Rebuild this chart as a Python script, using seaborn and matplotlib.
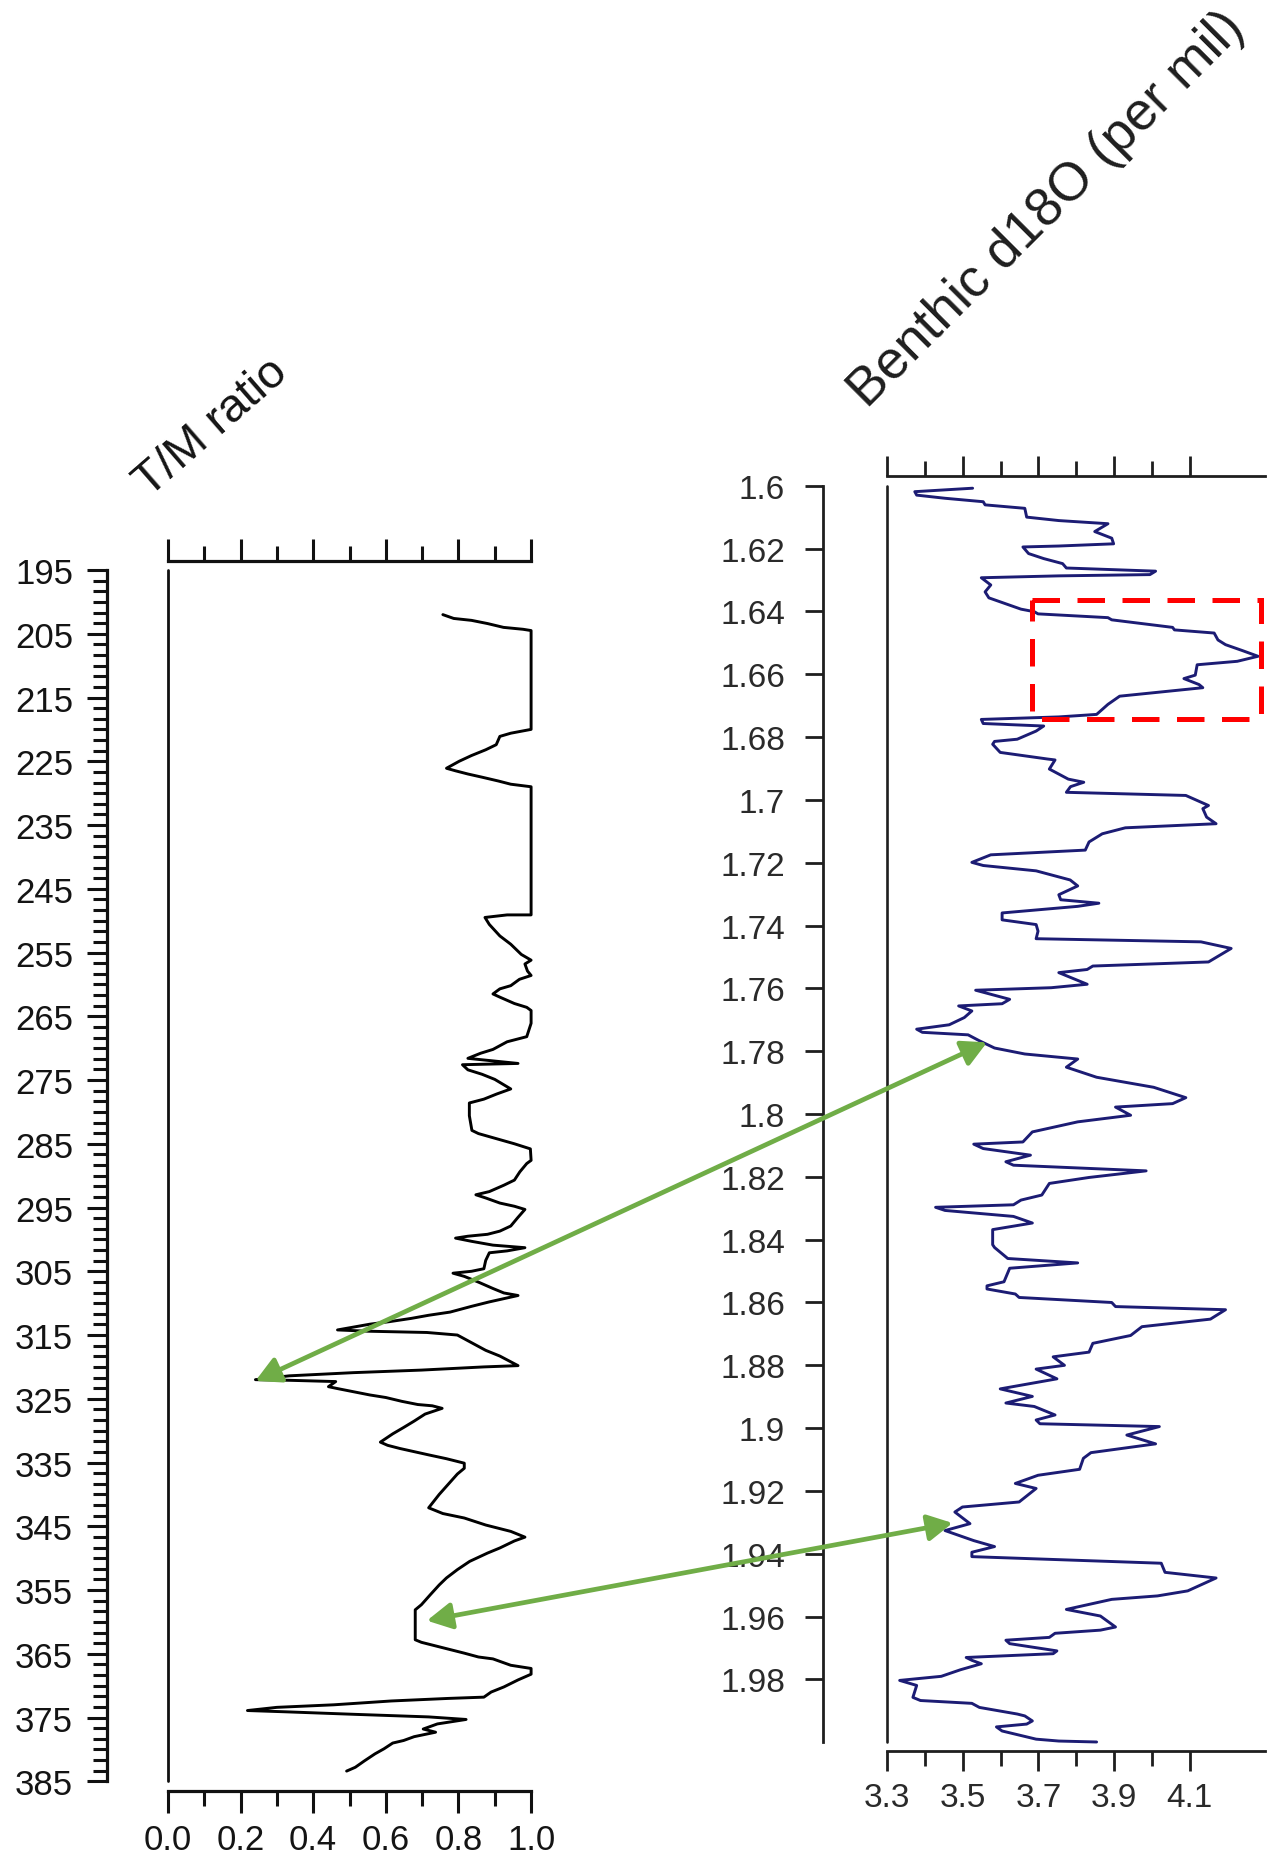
import numpy as np
import pandas as pd
import seaborn as sns
import matplotlib
matplotlib.use("Agg")
import matplotlib.pyplot as plt
from matplotlib.ticker import FixedLocator, FuncFormatter
from matplotlib.patches import Rectangle, ConnectionPatch, ArrowStyle

# ---------------- data ----------------
tm_ratio = [0.757, 0.787, 0.836, 0.88, 0.924, 0.978, 1.0, 1.0, 0.944, 0.914, 0.904, 0.875, 0.836, 0.802, 0.767,
            0.792, 0.826, 0.865, 0.91, 0.944, 1.0, 1.0, 0.934, 0.873, 0.885, 0.914, 0.944, 0.973, 1.0, 0.983,
            0.99, 1.0, 0.968, 0.944, 0.914, 0.895, 0.914, 0.954, 0.988, 1.0, 1.0, 0.988, 0.934, 0.895, 0.861,
            0.826, 0.964, 0.811, 0.826, 0.865, 0.9, 0.944, 0.905, 0.87, 0.83, 0.83, 0.837, 0.855, 0.905, 0.954,
            0.998, 1.0, 0.988, 0.969, 0.954, 0.925, 0.885, 0.848, 0.875, 0.914, 0.954, 0.983, 0.963, 0.944,
            0.914, 0.88, 0.826, 0.792, 0.836, 0.895, 0.983, 0.934, 0.885, 0.875, 0.87, 0.836, 0.785, 0.816,
            0.855, 0.895, 0.925, 0.964, 0.925, 0.885, 0.836, 0.777, 0.718, 0.669, 0.61, 0.556, 0.506, 0.467,
            0.55, 0.713, 0.797, 0.836, 0.875, 0.914, 0.964, 0.87, 0.698, 0.511, 0.334, 0.241, 0.334, 0.462,
            0.442, 0.467, 0.511, 0.556, 0.6, 0.644, 0.688, 0.728, 0.755, 0.708, 0.678, 0.649, 0.619, 0.585,
            0.605, 0.639, 0.678, 0.718, 0.767, 0.816, 0.816, 0.797, 0.772, 0.747, 0.718, 0.757, 0.816, 0.875,
            0.944, 0.983, 0.954, 0.914, 0.88, 0.831, 0.797, 0.767, 0.747, 0.723, 0.698, 0.681, 0.681, 0.698,
            0.747, 0.782, 0.816, 0.855, 0.895, 0.944, 1.0, 1.0, 0.964, 0.925, 0.89, 0.87, 0.772, 0.615, 0.457,
            0.3, 0.219, 0.324, 0.516, 0.718, 0.821, 0.742, 0.703, 0.737, 0.678, 0.649, 0.619, 0.595, 0.57,
            0.541, 0.516, 0.492]
tm_depth = [202.0, 202.6, 202.9, 203.4, 204.0, 204.3, 204.5, 220.0, 220.6, 221.1, 222.4, 223.2, 224.1, 225.0, 226.1,
            226.5, 227.0, 227.5, 228.1, 228.6, 229.0, 249.1, 249.1, 249.5, 250.6, 252.4, 253.7, 255.3, 256.2, 256.8,
            257.9, 258.6, 259.2, 260.2, 260.7, 261.5, 262.0, 263.0, 263.6, 264.1, 266.1, 268.2, 269.0, 270.2, 270.8,
            271.6, 272.4, 272.6, 273.4, 274.1, 274.9, 276.4, 277.2, 278.0, 278.6, 280.6, 282.9, 283.4, 284.2, 285.0,
            285.8, 287.6, 288.1, 289.4, 290.7, 291.5, 292.5, 293.0, 293.5, 294.3, 294.8, 295.3, 296.6, 297.9,
            298.7, 299.2, 299.5, 299.8, 300.3, 300.9, 301.3, 301.8, 302.1, 303.3, 304.6, 305.0, 305.3, 305.8,
            306.7, 307.7, 308.4, 308.8, 309.3, 309.8, 310.5, 311.4, 311.9, 312.4, 312.9, 313.3, 313.8, 314.2,
            314.4, 314.6, 315.0, 316.2, 317.4, 318.3, 319.8, 320.0, 320.5, 320.9, 321.4, 322.0, 322.1, 322.3,
            323.1, 323.4, 323.9, 324.4, 324.8, 325.4, 325.9, 326.1, 326.5, 327.4, 328.5, 329.5, 330.5, 331.8,
            332.3, 332.8, 333.3, 333.8, 334.4, 335.1, 335.9, 336.8, 338.4, 340.0, 342.1, 343.0, 343.7, 344.8,
            345.8, 346.7, 347.3, 348.4, 349.2, 350.5, 351.8, 353.1, 354.2, 355.7, 357.3, 358.1, 362.8, 363.2,
            363.9, 364.4, 364.9, 365.5, 365.8, 366.8, 367.3, 368.2, 369.1, 370.2, 371.0, 371.8, 372.0, 372.4, 373.0,
            373.4, 373.9, 374.1, 374.5, 374.9, 375.3, 376.0, 376.8, 377.3, 378.0, 378.6, 379.0, 379.9, 380.7,
            381.8, 382.8, 383.4]

d18o = [3.526, 3.373, 3.378, 3.453, 3.554, 3.559, 3.664, 3.669, 3.754, 3.884, 3.849, 3.894, 3.899, 3.754, 3.659,
        3.674, 3.714, 3.764, 3.774, 4.01, 3.995, 3.754, 3.549, 3.574, 3.559, 3.569, 3.609, 3.654, 3.689, 3.699,
        3.884, 3.894, 4.055, 4.06, 4.165, 4.175, 4.195, 4.24, 4.281, 4.226, 4.12, 4.115, 4.085, 4.125, 4.135,
        3.915, 3.884, 3.854, 3.754, 3.549, 3.554, 3.714, 3.694, 3.644, 3.584, 3.579, 3.599, 3.664, 3.724, 3.744,
        3.729, 3.754, 3.779, 3.82, 3.785, 3.774, 4.09, 4.15, 4.135, 4.145, 4.17, 3.93, 3.869, 3.834, 3.824,
        3.574, 3.524, 3.554, 3.694, 3.719, 3.784, 3.804, 3.754, 3.759, 3.86, 3.804, 3.604, 3.604, 3.694, 3.699,
        3.694, 4.13, 4.21, 4.15, 3.844, 3.829, 3.754, 3.829, 3.734, 3.534, 3.624, 3.604, 3.489, 3.524, 3.504,
        3.464, 3.378, 3.393, 3.514, 3.544, 3.584, 3.664, 3.804, 3.774, 3.854, 4.005, 4.09, 4.055, 3.904, 3.944,
        3.804, 3.684, 3.659, 3.529, 3.554, 3.679, 3.614, 3.634, 3.985, 3.834, 3.729, 3.709, 3.654, 3.634, 3.428,
        3.453, 3.634, 3.684, 3.579, 3.579, 3.584, 3.619, 3.804, 3.624, 3.609, 3.564, 3.564, 3.639, 3.649, 3.894,
        3.904, 4.195, 4.155, 3.974, 3.944, 3.844, 3.834, 3.739, 3.769, 3.694, 3.749, 3.599, 3.684, 3.614, 3.689,
        3.744, 3.694, 3.704, 4.02, 3.934, 4.01, 3.839, 3.819, 3.809, 3.699, 3.639, 3.694, 3.649, 3.499, 3.479,
        3.519, 3.453, 3.529, 3.584, 3.524, 3.524, 4.025, 4.035, 4.17, 4.095, 4.015, 3.894, 3.774, 3.864, 3.904,
        3.864, 3.744, 3.729, 3.614, 3.624, 3.749, 3.739, 3.544, 3.509, 3.524, 3.549, 3.494, 3.443, 3.333, 3.378,
        3.368, 3.388, 3.524, 3.544, 3.644, 3.664, 3.684, 3.669, 3.589, 3.604, 3.694, 3.754, 3.854]
age = [1.6008, 1.6019, 1.603, 1.604, 1.6051, 1.6061, 1.6072, 1.61, 1.6111, 1.6121, 1.6146, 1.6167, 1.6185, 1.6192, 1.6195,
       1.6216, 1.6232, 1.6248, 1.6262, 1.6272, 1.6283, 1.6287, 1.6293, 1.6316, 1.6338, 1.6357, 1.6374, 1.6393, 1.6401, 1.6408,
       1.642, 1.6427, 1.6451, 1.6459, 1.6469, 1.6491, 1.6506, 1.6525, 1.6543, 1.6559, 1.657, 1.6603, 1.6614, 1.6633, 1.6643,
       1.667, 1.6696, 1.6728, 1.6736, 1.6744, 1.6757, 1.6765, 1.6781, 1.6807, 1.6814, 1.6823, 1.6849, 1.686, 1.687, 1.6873,
       1.6902, 1.6918, 1.6934, 1.6944, 1.6958, 1.6976, 1.6986, 1.7018, 1.7028, 1.7055, 1.7076, 1.7089, 1.7108, 1.7134, 1.716,
       1.7175, 1.7199, 1.7209, 1.7226, 1.7234, 1.7255, 1.7274, 1.7302, 1.7318, 1.7329, 1.7339, 1.736, 1.7382, 1.7397, 1.7418,
       1.7442, 1.7452, 1.7473, 1.7516, 1.7529, 1.754, 1.755, 1.7587, 1.7598, 1.7606, 1.7635, 1.7649, 1.7656, 1.7672, 1.7693,
       1.7716, 1.773, 1.774, 1.7748, 1.7767, 1.779, 1.7809, 1.7825, 1.7851, 1.7883, 1.7915, 1.7948, 1.7967, 1.7978, 1.8004,
       1.8025, 1.8057, 1.8089, 1.8096, 1.811, 1.8131, 1.8152, 1.8163, 1.8181, 1.8202, 1.8221, 1.8258, 1.8274, 1.8289, 1.8297,
       1.8307, 1.8326, 1.8347, 1.8368, 1.8416, 1.8425, 1.846, 1.8474, 1.8491, 1.8534, 1.8547, 1.8557, 1.8573, 1.8584, 1.86,
       1.8613, 1.8623, 1.8653, 1.8677, 1.8705, 1.873, 1.8758, 1.8773, 1.88, 1.8812, 1.8843, 1.8875, 1.8899, 1.892, 1.8931,
       1.8958, 1.8974, 1.8986, 1.8995, 1.9022, 1.905, 1.9078, 1.9096, 1.9131, 1.915, 1.9176, 1.9192, 1.9235, 1.9251, 1.9267,
       1.9304, 1.9326, 1.9358, 1.9377, 1.9395, 1.9409, 1.943, 1.9459, 1.9477, 1.9518, 1.9534, 1.9545, 1.9577, 1.9598, 1.9633,
       1.9643, 1.9653, 1.9666, 1.9675, 1.9686, 1.9709, 1.9718, 1.9728, 1.973, 1.9739, 1.975, 1.9769, 1.979, 1.9803, 1.9819,
       1.9857, 1.9867, 1.9876, 1.9889, 1.991, 1.9916, 1.9932, 1.9942, 1.9951, 1.9964, 1.999, 1.9996, 1.9999]

left_yticks = list(range(195, 386, 10))
left_xticks = [0.0, 0.2, 0.4, 0.6, 0.8, 1.0]
left_xminor = [0.1, 0.3, 0.5, 0.7, 0.9]
right_yticks = [1.6, 1.62, 1.64, 1.66, 1.68, 1.7, 1.72, 1.74, 1.76, 1.78, 1.8, 1.82, 1.84, 1.86, 1.88,
                1.9, 1.92, 1.94, 1.96, 1.98]
right_xticks = [3.3, 3.5, 3.7, 3.9, 4.1]
right_xminor = [3.4, 3.6, 3.8, 4.0]

title_left = "T/M ratio"
title_right = "Benthic d18O (per mil)"

# annotation anchors (data coords): (tm value, depth) <-> (d18O, age)
arrow_pairs = [((0.241, 322.2), (3.564, 1.7772)),
               ((0.713, 359.8), (3.473, 1.9302))]
box_x = (3.684, 4.288)
box_y = (1.6364, 1.6744)

# ---------------- style ----------------
sns.set_theme(style="white")
plt.rcParams['font.family'] = ['Liberation Sans', 'DejaVu Sans']

W, H = 1274, 1858
fig = plt.figure(figsize=(W / 100, H / 100), dpi=100)
fig.patch.set_facecolor("white")

def fx(px):
    return px / W

def fy(py):
    return 1 - py / H

# left axes: x 167.9..531.1 px, y 571..1782.3 px
ax1 = fig.add_axes([fx(167.9), fy(1782.3), fx(531.1 - 167.9), (1782.3 - 571) / H])
# right axes: x 887.2..1265.2 px, y 486.7..1743.3 px
ax2 = fig.add_axes([fx(887.2), fy(1743.3), fx(1265.2 - 887.2), (1743.3 - 486.7) / H])

df_l = pd.DataFrame({"ratio": tm_ratio, "depth": tm_depth})
df_r = pd.DataFrame({"d18o": d18o, "age": age})

lc = "#111111"
sns.lineplot(data=df_l, x="ratio", y="depth", sort=False, estimator=None, orient="y",
             color="black", linewidth=2.1, ax=ax1, clip_on=False)
sns.lineplot(data=df_r, x="d18o", y="age", sort=False, estimator=None, orient="y",
             color="#1c1c74", linewidth=2.1, ax=ax2, clip_on=False)

# ---- left axes styling ----
ax1.set_xlim(0, 1)
ax1.set_ylim(385, 195)
ax1.set_xlabel("")
ax1.set_ylabel("")
ax1.spines["right"].set_visible(False)
for s in ["left", "top", "bottom"]:
    ax1.spines[s].set_color(lc)
    ax1.spines[s].set_linewidth(2.3)
ax1.spines["left"].set_position(("outward", 43.8))
ax1.spines["top"].set_position(("outward", 6.7))
ax1.spines["bottom"].set_position(("outward", 6.8))
ax1.axvline(0, color=lc, lw=2.0, clip_on=False)

ax1.yaxis.set_major_locator(FixedLocator(left_yticks))
ax1.yaxis.set_minor_locator(FixedLocator(list(np.arange(195, 385.01, 10 / 6))))
ax1.xaxis.set_major_locator(FixedLocator(left_xticks))
ax1.xaxis.set_minor_locator(FixedLocator(left_xminor))
ax1.xaxis.set_major_formatter(FuncFormatter(lambda v, p: f"{v:.1f}"))
ax1.yaxis.set_major_formatter(FuncFormatter(lambda v, p: f"{v:.0f}"))
ax1.tick_params(axis="y", which="major", direction="out", length=14.1, width=2.2, color=lc,
                labelsize=25, pad=10.5, labelcolor="#141414", left=True, right=False)
ax1.tick_params(axis="y", which="minor", direction="out", length=10.3, width=2.2, color=lc, left=True)
ax1.tick_params(axis="x", which="major", direction="out", length=15.5, width=2.2, color=lc,
                labelsize=25, pad=7.5, labelcolor="#141414", top=True, bottom=True,
                labeltop=False, labelbottom=True)
ax1.tick_params(axis="x", which="minor", direction="out", length=11, width=2.2, color=lc,
                top=True, bottom=True)

# ---- right axes styling ----
rc = "#1e1e1e"
ax2.set_xlim(3.3, 4.3)
ax2.set_ylim(2.0, 1.6)
ax2.set_xlabel("")
ax2.set_ylabel("")
ax2.spines["right"].set_visible(False)
for s in ["left", "top", "bottom"]:
    ax2.spines[s].set_color(rc)
    ax2.spines[s].set_linewidth(2.0)
ax2.spines["left"].set_position(("outward", 46.0))
ax2.spines["top"].set_position(("outward", 7.0))
ax2.spines["bottom"].set_position(("outward", 6.3))
ax2.axvline(3.3, color=rc, lw=1.9, clip_on=False)

ax2.yaxis.set_major_locator(FixedLocator(right_yticks))
ax2.yaxis.set_major_formatter(FuncFormatter(lambda v, p: f"{v:g}"))
ax2.xaxis.set_major_locator(FixedLocator(right_xticks))
ax2.xaxis.set_minor_locator(FixedLocator(right_xminor))
ax2.xaxis.set_major_formatter(FuncFormatter(lambda v, p: f"{v:.1f}"))
ax2.tick_params(axis="y", which="major", direction="out", length=13.1, width=2.0, color=rc,
                labelsize=24, pad=14.5, labelcolor="#2a2a2a", left=True, right=False)
ax2.tick_params(axis="x", which="major", direction="out", length=14.5, width=2.0, color=rc,
                labelsize=24, pad=8.0, labelcolor="#2a2a2a", top=True, bottom=True,
                labeltop=False, labelbottom=True)
ax2.tick_params(axis="x", which="minor", direction="out", length=10.5, width=2.0, color=rc,
                top=True, bottom=True)

# red dashed box
ax2.add_patch(Rectangle((box_x[0], box_y[0]), box_x[1] - box_x[0], box_y[1] - box_y[0],
                        fill=False, edgecolor="#ff0000", lw=3.6, linestyle=(0, (5.5, 3.5)),
                        clip_on=False, zorder=5))

# titles
fig.text(fx(211), fy(428), title_left, rotation=41, rotation_mode="anchor",
         ha="center", va="center", fontsize=34, color="#141414")
fig.text(fx(1047), fy(210), title_right, rotation=45, rotation_mode="anchor",
         ha="center", va="center", fontsize=38.5, color="#1e1e1e")

# green double arrows
green = "#70ad47"
for (pa, pb) in arrow_pairs:
    con = ConnectionPatch(xyA=pa, coordsA=ax1.transData, xyB=pb, coordsB=ax2.transData,
                          arrowstyle=ArrowStyle("<|-|>", head_length=0.6, head_width=0.32),
                          mutation_scale=25, color=green, lw=3.4, shrinkA=0, shrinkB=0,
                          zorder=10)
    fig.add_artist(con)

fig.savefig("out.png", dpi=100, facecolor="white")
